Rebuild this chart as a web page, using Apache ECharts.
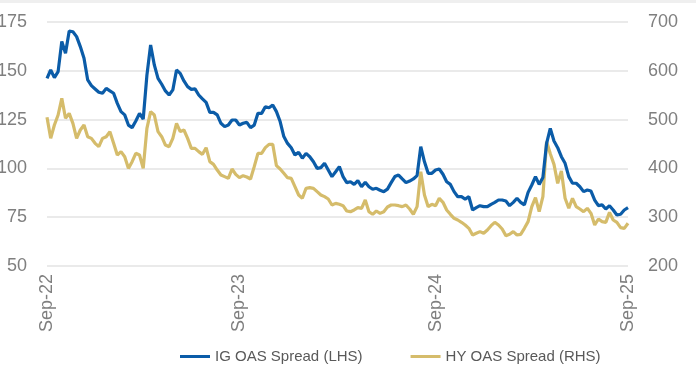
<!DOCTYPE html>
<html>
<head>
<meta charset="utf-8">
<script src="https://cdn.jsdelivr.net/npm/echarts@6/dist/echarts.min.js"></script>
<style>html,body{margin:0;padding:0;background:#fff}#c{width:696px;height:385px}</style>
</head>
<body>
<div id="c"></div>
<script>
// Weekly dates (Fridays)
const dates2022 = ['2022-09-02','2022-09-09','2022-09-16','2022-09-23','2022-09-30','2022-10-07','2022-10-14','2022-10-21','2022-10-28','2022-11-04','2022-11-11','2022-11-18','2022-11-25','2022-12-02','2022-12-09','2022-12-16','2022-12-23','2022-12-30'];
const dates2023 = ['2023-01-06','2023-01-13','2023-01-20','2023-01-27','2023-02-03','2023-02-10','2023-02-17','2023-02-24','2023-03-03','2023-03-10','2023-03-17','2023-03-24','2023-03-31','2023-04-07','2023-04-14','2023-04-21','2023-04-28','2023-05-05','2023-05-12','2023-05-19','2023-05-26','2023-06-02','2023-06-09','2023-06-16','2023-06-23','2023-06-30','2023-07-07','2023-07-14','2023-07-21','2023-07-28','2023-08-04','2023-08-11','2023-08-18','2023-08-25','2023-09-01','2023-09-08','2023-09-15','2023-09-22','2023-09-29','2023-10-06','2023-10-13','2023-10-20','2023-10-27','2023-11-03','2023-11-10','2023-11-17','2023-11-24','2023-12-01','2023-12-08','2023-12-15','2023-12-22','2023-12-29'];
const dates2024 = ['2024-01-05','2024-01-12','2024-01-19','2024-01-26','2024-02-02','2024-02-09','2024-02-16','2024-02-23','2024-03-01','2024-03-08','2024-03-15','2024-03-22','2024-03-29','2024-04-05','2024-04-12','2024-04-19','2024-04-26','2024-05-03','2024-05-10','2024-05-17','2024-05-24','2024-05-31','2024-06-07','2024-06-14','2024-06-21','2024-06-28','2024-07-05','2024-07-12','2024-07-19','2024-07-26','2024-08-02','2024-08-09','2024-08-16','2024-08-23','2024-08-30','2024-09-06','2024-09-13','2024-09-20','2024-09-27','2024-10-04','2024-10-11','2024-10-18','2024-10-25','2024-11-01','2024-11-08','2024-11-15','2024-11-22','2024-11-29','2024-12-06','2024-12-13','2024-12-20','2024-12-27'];
const dates2025 = ['2025-01-03','2025-01-10','2025-01-17','2025-01-24','2025-01-31','2025-02-07','2025-02-14','2025-02-21','2025-02-28','2025-03-07','2025-03-14','2025-03-21','2025-03-28','2025-04-04','2025-04-11','2025-04-18','2025-04-25','2025-05-02','2025-05-09','2025-05-16','2025-05-23','2025-05-30','2025-06-06','2025-06-13','2025-06-20','2025-06-27','2025-07-04','2025-07-11','2025-07-18','2025-07-25','2025-08-01','2025-08-08','2025-08-15','2025-08-22','2025-08-29','2025-09-05'];
const dates = [].concat(dates2022, dates2023, dates2024, dates2025);

// IG OAS spread (bp, LHS)
const igSpread = [
  146.1,150.4,146.5,149.6,165.0,159.0,170.4,170.0,167.5,162.4,
  156.4,145.3,142.4,140.7,139.0,138.5,141.0,139.7,138.5,133.3,
  129.1,127.4,122.2,120.9,124.3,128.2,125.3,147.8,163.2,153.0,
  146.1,143.1,139.7,137.6,140.2,150.4,148.7,144.8,141.9,140.5,
  140.7,137.6,135.6,133.8,128.7,128.7,127.4,123.1,121.4,122.2,
  124.8,124.8,122.2,123.1,123.6,120.9,122.2,128.2,128.2,131.6,
  131.1,132.5,129.1,124.0,116.3,112.8,110.6,106.9,108.2,105.2,
  107.7,106.0,103.4,100.0,100.4,102.6,99.2,95.8,98.3,100.9,
  95.8,92.7,93.2,91.8,93.7,90.6,92.9,90.6,89.3,89.8,
  88.8,88.1,89.4,92.7,95.8,96.6,94.6,92.7,93.5,94.6,
  96.3,111.1,103.4,97.5,97.5,99.2,99.7,97.0,93.2,91.8,
  88.1,85.5,85.5,84.3,85.5,78.7,79.9,80.9,80.4,80.4,
  81.6,82.6,83.8,83.8,83.3,80.9,82.6,84.7,82.6,81.3,
  87.7,91.5,95.8,91.8,95.3,112.8,120.5,114.0,110.6,106.0,
  102.6,95.8,92.4,92.4,90.6,88.1,88.9,88.4,83.8,80.9,
  81.3,79.2,80.9,78.7,76.1,76.5,78.7,79.9
];

// HY OAS spread (bp, RHS)
const hySpread = [
  505,461.6,489,509.4,543.6,502.6,512.8,492.3,461.6,478.7,
  489,465,461.6,451.4,444.5,461.6,465,475.3,451.4,427.5,
  434.3,424,400.1,413.8,430.9,427.5,400.1,482.1,516.3,509.4,
  475.3,465,447.9,444.5,461.6,492.3,475.3,478.7,461.6,441.1,
  441.1,434.3,428.8,442.5,413.8,408.3,396.7,386.5,383.1,379.6,
  398.8,387.8,381,385.1,382.4,378.3,403.6,430.9,430.9,442.5,
  449.3,449.3,405.6,398.8,389.9,381,379.6,362.6,345.5,338.7,
  359.2,360.5,359.2,352.3,345.5,342.1,337.3,325,328.4,326.4,
  323.6,312.7,311.3,314.8,319.5,318.2,335.2,311.3,305.9,312.7,
  307.9,311.3,320.9,325,325,323.6,321.6,325,316.8,305.9,
  321.6,393.3,345.5,321.6,326.4,323.6,338.7,330.5,314.8,305.9,
  297.7,294.3,289.5,284,277.2,263.5,267,270.4,267,273.8,
  282.6,289.5,284,275.8,262.2,264.9,270.4,263.5,264.9,277.2,
  290.9,321.6,340,311.3,342.1,455,430,408.3,369.4,394.7,
  338.7,318.2,338.7,321.6,316.8,311.3,318.2,307.9,284,296.3,
  290.9,289.5,309.8,294.3,289.5,278.6,277.2,287.6
];

const seriesNames = ['IG OAS Spread (LHS)', 'HY OAS Spread (RHS)'];
const leftTicks = {min: 50, max: 175, interval: 25};
const rightTicks = {min: 200, max: 700, interval: 100};

const monthNames = ['Jan','Feb','Mar','Apr','May','Jun','Jul','Aug','Sep','Oct','Nov','Dec'];
function isLabelDate(d) {
  const m = +d.slice(5, 7), day = +d.slice(8, 10);
  return m === 9 && day <= 7;
}

const FONT = "'Liberation Sans', Arial, sans-serif";
const chart = echarts.init(document.getElementById('c'), null, {renderer: 'canvas'});
chart.setOption({
  animation: false,
  backgroundColor: '#ffffff',
  graphic: [{
    type: 'rect', left: 0, top: 0, shape: {width: 696, height: 3},
    style: {fill: '#efefef'}, silent: true
  }],
  grid: {left: 47, right: 68, top: 22, bottom: 119, containLabel: false, outerBoundsMode: 'none'},
  legend: {
    data: seriesNames,
    left: 175, top: 344,
    icon: 'rect', itemWidth: 30, itemHeight: 3, itemGap: 48,
    textStyle: {fontFamily: FONT, fontSize: 15, color: '#595959'}
  },
  xAxis: {
    type: 'category',
    data: dates,
    boundaryGap: false,
    axisLine: {show: false},
    axisTick: {show: false},
    splitLine: {show: false},
    axisLabel: {
      interval: function (idx, val) { return isLabelDate(val); },
      rotate: 90,
      margin: 8,
      fontFamily: FONT, fontSize: 18, color: '#7f7f7f',
      formatter: function (val) { return monthNames[+val.slice(5, 7) - 1] + '-' + val.slice(2, 4); }
    }
  },
  yAxis: [{
    type: 'value',
    min: leftTicks.min, max: leftTicks.max, interval: leftTicks.interval,
    axisLine: {show: false}, axisTick: {show: false},
    axisLabel: {fontFamily: FONT, fontSize: 18, color: '#7f7f7f', margin: 20},
    splitLine: {lineStyle: {color: '#e3e3e3', width: 1.5}}
  }, {
    type: 'value',
    min: rightTicks.min, max: rightTicks.max, interval: rightTicks.interval,
    axisLine: {show: false}, axisTick: {show: false},
    axisLabel: {fontFamily: FONT, fontSize: 18, color: '#7f7f7f', margin: 20},
    splitLine: {show: false}
  }],
  series: [{
    name: seriesNames[1], type: 'line', yAxisIndex: 1, data: hySpread,
    showSymbol: false, symbol: 'none',
    lineStyle: {color: '#d5bc6b', width: 3.2}, itemStyle: {color: '#d5bc6b'}
  }, {
    name: seriesNames[0], type: 'line', yAxisIndex: 0, data: igSpread,
    showSymbol: false, symbol: 'none',
    lineStyle: {color: '#0b5ca8', width: 3.2}, itemStyle: {color: '#0b5ca8'}
  }]
});
</script>
</body>
</html>
